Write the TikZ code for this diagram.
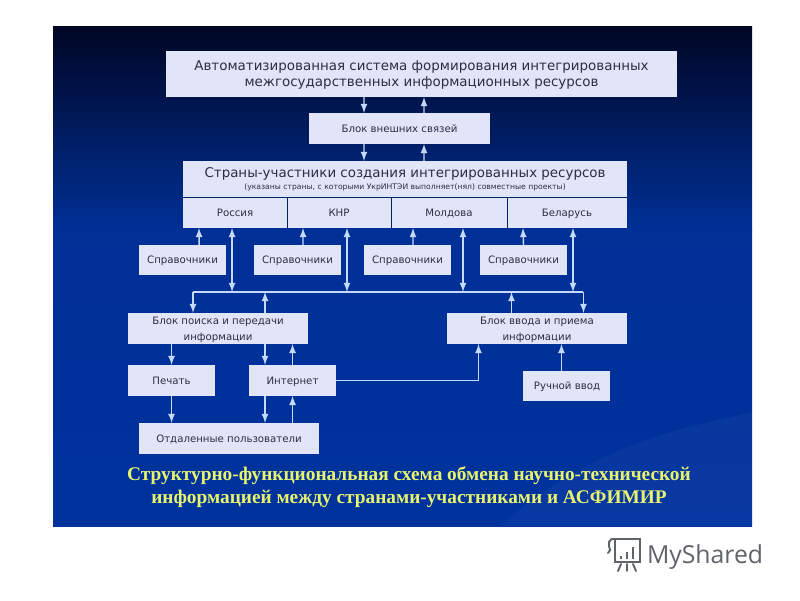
\documentclass[tikz,border=0pt]{standalone}
\usepackage{fontspec}
\setmainfont{DejaVu Sans}
\newfontfamily\captionserif{Liberation Serif}
\newfontfamily\logosans{Open Sans}
\usetikzlibrary{positioning, calc}
\definecolor{boxFill}{RGB}{226,229,248}
\definecolor{boxText}{RGB}{45,45,65}
\definecolor{lineBlue}{RGB}{196,218,248}
\definecolor{slideTop}{RGB}{0,6,36}
\definecolor{slideMid}{RGB}{0,48,150}
\definecolor{slideLow}{RGB}{0,50,158}
\definecolor{captionYellow}{RGB}{232,244,110}
\definecolor{logoGray}{RGB}{95,100,105}

\begin{document}
\begin{tikzpicture}[x=0.02cm, y=-0.02cm, >=latex,
    every node/.style={font=\fontsize{5.8pt}{9pt}\selectfont, align=center, text=boxText, inner sep=0pt, outer sep=0pt, text depth=-0.5pt},
    boxNode/.style={rectangle, fill=boxFill},
    smallBox/.style={boxNode, minimum width=1.74cm, minimum height=0.6cm},
    wideBox/.style={boxNode, minimum width=3.6cm, minimum height=0.62cm},
    cellNode/.style={boxNode, minimum height=0.62cm},
    dividerLine/.style={draw=slideMid!70!black, line width=0.4pt},
    arrowLine/.style={draw=lineBlue, line width=0.8pt}]
\useasboundingbox (0,0) rectangle (800,600);
\fill[white] (0,0) rectangle (800,600);
\shade[top color=slideTop, bottom color=slideMid] (53,26) rectangle (752,230);
\shade[top color=slideMid, bottom color=slideLow] (53,230) rectangle (752,526);
\fill[white, opacity=0.03] (500,526) .. controls (600,440) and (680,430) .. (752,412) -- (752,526) -- cycle;

% upper blocks
\node (topSystem) [boxNode, minimum width=10.22cm, minimum height=0.92cm, font=\fontsize{7.65pt}{9.2pt}\selectfont] at (421.5,74) {Автоматизированная система формирования интегрированных \\ межгосударственных информационных ресурсов};
\node (blockExternal) [boxNode, minimum width=3.62cm, minimum height=0.62cm, below=0.32cm of topSystem, xshift=-0.44cm] {Блок внешних связей};
\node (countriesHead) [boxNode, minimum width=8.88cm, minimum height=0.72cm, below=0.34cm of blockExternal, xshift=0.11cm] {{\fontsize{7.63pt}{9pt}\selectfont Страны-участники создания интегрированных ресурсов} \\[-2.2pt] {\fontsize{4.36pt}{5pt}\selectfont (указаны страны, с которыми УкрИНТЭИ выполняет(нял) совместные проекты)}};

% countries
\node (russia) [cellNode, minimum width=2.08cm, anchor=north west] at (countriesHead.south west) {Россия};
\node (china) [cellNode, minimum width=2.08cm, right=0cm of russia] {КНР};
\node (moldova) [cellNode, minimum width=2.32cm, right=0cm of china] {Молдова};
\node (belarus) [cellNode, minimum width=2.4cm, right=0cm of moldova] {Беларусь};
\draw[dividerLine] (russia.north west) -- (belarus.north east);
\draw[dividerLine] (china.north west) -- (china.south west);
\draw[dividerLine] (moldova.north west) -- (moldova.south west);
\draw[dividerLine] (belarus.north west) -- (belarus.south west);

% reference books
\node (refRussia) [smallBox, below=0.34cm of russia, xshift=-1.05cm] {Справочники};
\node (refChina) [smallBox, right=0.56cm of refRussia] {Справочники};
\node (refMoldova) [smallBox, right=0.46cm of refChina] {Справочники};
\node (refBelarus) [smallBox, right=0.58cm of refMoldova] {Справочники};

% lower blocks
\node (searchBlock) [wideBox, below=0.76cm of refRussia, xshift=0.71cm] {Блок поиска и передачи \\ информации};
\node (inputBlock) [wideBox, right=2.78cm of searchBlock] {Блок ввода и приема \\ информации};
\node (printBox) [smallBox, minimum height=0.62cm, below=0.42cm of searchBlock, xshift=-0.93cm] {Печать};
\node (internetBox) [smallBox, minimum height=0.62cm, right=0.68cm of printBox] {Интернет};
\node (manualBox) [smallBox, below=0.54cm of inputBlock, xshift=0.6cm] {Ручной ввод};
\node (remoteUsers) [wideBox, below=0.54cm of printBox, xshift=1.15cm] {Отдаленные пользователи};

\coordinate (busLeft) at ([xshift=-0.5cm, yshift=0.42cm]searchBlock.north);
\coordinate (busRight) at ([xshift=0.93cm, yshift=0.42cm]inputBlock.north);

% arrows top
\draw[arrowLine, ->] ([xshift=-1.15cm]topSystem.south) -- ([xshift=-0.71cm]blockExternal.north);
\draw[arrowLine, ->] ([xshift=0.49cm]blockExternal.north) -- ([xshift=0.05cm]topSystem.south);
\draw[arrowLine, ->] ([xshift=-0.71cm]blockExternal.south) -- ([xshift=-0.82cm]countriesHead.north);
\draw[arrowLine, ->] ([xshift=0.38cm]countriesHead.north) -- ([xshift=0.49cm]blockExternal.south);

% reference books to countries
\draw[arrowLine, ->] ([xshift=0.33cm]refRussia.north) -- ([xshift=-0.72cm]russia.south);
\draw[arrowLine, ->] ([xshift=0.11cm]refChina.north) -- ([xshift=-0.72cm]china.south);
\draw[arrowLine, ->] ([xshift=0.11cm]refMoldova.north) -- ([xshift=-0.72cm]moldova.south);
\draw[arrowLine, ->] (refBelarus.north) -- ([xshift=-0.88cm]belarus.south);

% common bus
\draw[arrowLine] (busLeft) -- (busRight);
\draw[arrowLine, <->] ([xshift=-0.06cm]russia.south) coordinate (tapRussia) -- (tapRussia |- busLeft);
\draw[arrowLine, <->] ([xshift=0.16cm]china.south) coordinate (tapChina) -- (tapChina |- busLeft);
\draw[arrowLine, <->] ([xshift=0.28cm]moldova.south) coordinate (tapMoldova) -- (tapMoldova |- busLeft);
\draw[arrowLine, <->] ([xshift=0.12cm]belarus.south) coordinate (tapBelarus) -- (tapBelarus |- busLeft);
\draw[arrowLine, ->] (busLeft) -- (busLeft |- searchBlock.north);
\draw[arrowLine, ->] (busRight) -- (busRight |- inputBlock.north);
\draw[arrowLine, ->] ([xshift=0.94cm]searchBlock.north) coordinate (tapSearch) -- (tapSearch |- busLeft);
\draw[arrowLine, ->] ([xshift=-0.51cm]inputBlock.north) coordinate (tapInput) -- (tapInput |- busLeft);

% arrows bottom
\draw[arrowLine, ->] (printBox.north |- searchBlock.south) -- (printBox.north);
\draw[arrowLine, ->] (printBox.south) -- (printBox.south |- remoteUsers.north);
\coordinate (tapNet) at ([xshift=-0.55cm]internetBox.north);
\draw[arrowLine, ->] (tapNet |- searchBlock.south) -- (tapNet);
\draw[arrowLine, ->] (internetBox.north) -- (internetBox.north |- searchBlock.south);
\draw[arrowLine, ->] ([xshift=-0.55cm]internetBox.south) coordinate (tapNetLow) -- (tapNetLow |- remoteUsers.north);
\draw[arrowLine, ->] (internetBox.south |- remoteUsers.north) -- (internetBox.south);
\draw[arrowLine, ->] (internetBox.east) -| ([xshift=-1.17cm]inputBlock.south);
\draw[arrowLine, ->] ([xshift=-0.11cm]manualBox.north) coordinate (tapManual) -- (tapManual |- inputBlock.south);

% caption
\node (captionText) [text=captionYellow, font=\captionserif\bfseries\fontsize{11pt}{13pt}\selectfont] at (409,485) {Структурно-функциональная схема обмена научно-технической \\ информацией между странами-участниками и АСФИМИР};

% logo
\node (logoText) [text=logoGray, font=\logosans\fontsize{14.1pt}{16pt}\selectfont, anchor=west] at (647,554) {MyShared};
\draw[logoGray, line width=1.1pt, line cap=round] (615,539) -- (640,539) -- (640,562) -- (615,562) -- (615,539) (615,539) .. controls (608,538) and (608,544) .. (610,550) -- (608,553);
\draw[logoGray, line width=1.5pt] (621,559) -- (621,556) (627,559) -- (627,552) (633,559) -- (633,547);
\draw[logoGray, line width=1.1pt, line cap=round] (621,564) -- (618,571) (627,564) -- (627,571) (633,564) -- (636,571);
\end{tikzpicture}
\end{document}
